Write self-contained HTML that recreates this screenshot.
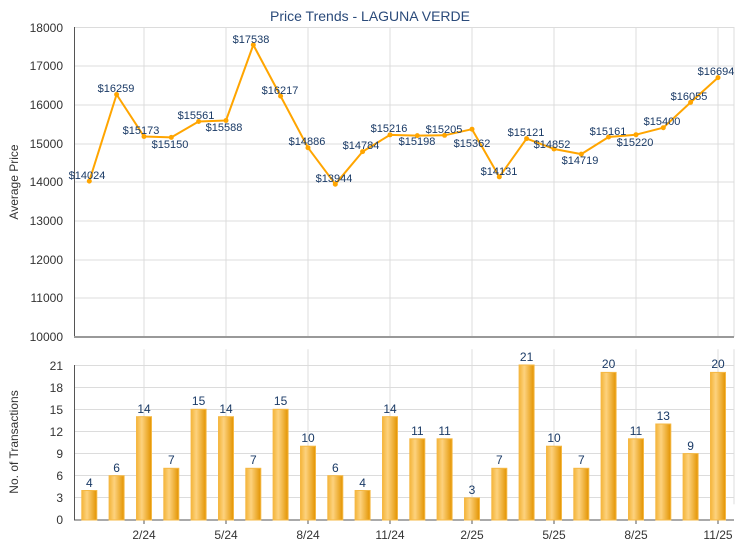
<!DOCTYPE html>
<html><head><meta charset="utf-8"><style>body{margin:0;background:#fff}svg{display:block;font-family:"Liberation Sans",sans-serif}</style></head><body>
<svg width="740" height="550" viewBox="0 0 740 550">
<defs><linearGradient id="g" x1="0" x2="1"><stop offset="0" stop-color="#f4b53a"/><stop offset="0.35" stop-color="#fdd27e"/><stop offset="1" stop-color="#e39400"/></linearGradient></defs>
<text x="370" y="21" text-anchor="middle" font-size="14" fill="#2a4a7a">Price Trends - LAGUNA VERDE</text>
<g stroke="#dcdcdc" stroke-width="1">
<line x1="74" x2="734" y1="27.5" y2="27.5"/><line x1="74" x2="734" y1="66" y2="66"/><line x1="74" x2="734" y1="105" y2="105"/><line x1="74" x2="734" y1="144" y2="144"/><line x1="74" x2="734" y1="182" y2="182"/><line x1="74" x2="734" y1="221" y2="221"/><line x1="74" x2="734" y1="260" y2="260"/><line x1="74" x2="734" y1="298" y2="298"/>
<line x1="74" x2="734" y1="365.5" y2="365.5"/><line x1="74" x2="734" y1="387.5" y2="387.5"/><line x1="74" x2="734" y1="409.5" y2="409.5"/><line x1="74" x2="734" y1="431.5" y2="431.5"/><line x1="74" x2="734" y1="453.5" y2="453.5"/><line x1="74" x2="734" y1="475.5" y2="475.5"/><line x1="74" x2="734" y1="497.5" y2="497.5"/>
<g id="v"><line x1="144" x2="144" y1="27" y2="337"/><line x1="226" x2="226" y1="27" y2="337"/><line x1="308" x2="308" y1="27" y2="337"/><line x1="390" x2="390" y1="27" y2="337"/><line x1="472" x2="472" y1="27" y2="337"/><line x1="554" x2="554" y1="27" y2="337"/><line x1="636" x2="636" y1="27" y2="337"/><line x1="718" x2="718" y1="27" y2="337"/><line x1="734" x2="734" y1="27" y2="337"/></g>
<use href="#v" transform="translate(0,335.8) scale(1,0.5)"/>
</g>
<g stroke="#555"><line x1="144" x2="144" y1="520" y2="524"/><line x1="226" x2="226" y1="520" y2="524"/><line x1="308" x2="308" y1="520" y2="524"/><line x1="390" x2="390" y1="520" y2="524"/><line x1="472" x2="472" y1="520" y2="524"/><line x1="554" x2="554" y1="520" y2="524"/><line x1="636" x2="636" y1="520" y2="524"/><line x1="718" x2="718" y1="520" y2="524"/></g>
<line x1="74.5" x2="74.5" y1="27" y2="337" stroke="#555"/><line x1="74" x2="734" y1="337" y2="337" stroke="#999" stroke-width="2"/>
<line x1="74.5" x2="74.5" y1="365" y2="520" stroke="#555"/><line x1="74" x2="734" y1="520" y2="520" stroke="#555"/>
<g font-size="12" fill="#333" text-anchor="end">
<text x="63" y="32">18000</text><text x="63" y="70">17000</text><text x="63" y="109">16000</text><text x="63" y="148">15000</text><text x="63" y="186">14000</text><text x="63" y="225">13000</text><text x="63" y="264">12000</text><text x="63" y="302">11000</text><text x="63" y="341">10000</text>
<text x="63" y="370">21</text><text x="63" y="392">18</text><text x="63" y="414">15</text><text x="63" y="436">12</text><text x="63" y="458">9</text><text x="63" y="480">6</text><text x="63" y="502">3</text><text x="63" y="524">0</text>
</g>
<g font-size="12" fill="#333" text-anchor="middle">
<text x="144" y="539">2/24</text><text x="226" y="539">5/24</text><text x="308" y="539">8/24</text><text x="390" y="539">11/24</text><text x="472" y="539">2/25</text><text x="554" y="539">5/25</text><text x="636" y="539">8/25</text><text x="718" y="539">11/25</text>
</g>
<text transform="translate(18,182) rotate(-90)" font-size="12" fill="#333" text-anchor="middle">Average Price</text>
<text transform="translate(18,442) rotate(-90)" font-size="12" fill="#333" text-anchor="middle">No. of Transactions</text>
<polyline fill="none" stroke="#ffa500" stroke-width="2" stroke-linejoin="round" points="89.3,181.1 116.6,94.5 144,136.5 171.3,137.4 198.6,121.5 226,120.5 253.3,44.9 280.6,96.1 308,147.7 335.3,184.2 362.6,151.6 390,134.9 417.3,135.6 444.6,135.3 472,129.2 499.3,176.9 526.6,138.6 554,149 581.3,154.1 608.6,137 636,134.7 663.3,127.7 690.6,102.4 718,77.6"/>
<g fill="#ffa500"><circle cx="89.3" cy="181.1" r="2.5"/><circle cx="116.6" cy="94.5" r="2.5"/><circle cx="144" cy="136.5" r="2.5"/><circle cx="171.3" cy="137.4" r="2.5"/><circle cx="198.6" cy="121.5" r="2.5"/><circle cx="226" cy="120.5" r="2.5"/><circle cx="253.3" cy="44.9" r="2.5"/><circle cx="280.6" cy="96.1" r="2.5"/><circle cx="308" cy="147.7" r="2.5"/><circle cx="335.3" cy="184.2" r="2.5"/><circle cx="362.6" cy="151.6" r="2.5"/><circle cx="390" cy="134.9" r="2.5"/><circle cx="417.3" cy="135.6" r="2.5"/><circle cx="444.6" cy="135.3" r="2.5"/><circle cx="472" cy="129.2" r="2.5"/><circle cx="499.3" cy="176.9" r="2.5"/><circle cx="526.6" cy="138.6" r="2.5"/><circle cx="554" cy="149" r="2.5"/><circle cx="581.3" cy="154.1" r="2.5"/><circle cx="608.6" cy="137" r="2.5"/><circle cx="636" cy="134.7" r="2.5"/><circle cx="663.3" cy="127.7" r="2.5"/><circle cx="690.6" cy="102.4" r="2.5"/><circle cx="718" cy="77.6" r="2.5"/></g>
<g font-size="11" fill="#1a3a66" text-anchor="middle">
<text x="87" y="179">$14024</text><text x="116" y="92">$16259</text><text x="141" y="134">$15173</text><text x="170" y="148">$15150</text><text x="196" y="119">$15561</text><text x="224" y="131">$15588</text><text x="251" y="43">$17538</text><text x="280" y="94">$16217</text><text x="307" y="145">$14886</text><text x="334" y="182">$13944</text><text x="361" y="149">$14784</text><text x="389" y="132">$15216</text><text x="417" y="145">$15198</text><text x="444" y="133">$15205</text><text x="472" y="147">$15362</text><text x="499" y="175">$14131</text><text x="526" y="136">$15121</text><text x="552" y="148">$14852</text><text x="580" y="164">$14719</text><text x="608" y="135">$15161</text><text x="635" y="146">$15220</text><text x="662" y="125">$15400</text><text x="689" y="100">$16055</text><text x="716" y="75">$16694</text>
</g>
<g fill="url(#g)" stroke="#f5b844" stroke-width="1">
<rect x="81.8" y="490.5" width="15" height="29.5"/><rect x="109.1" y="475.7" width="15" height="44.3"/><rect x="136.5" y="416.7" width="15" height="103.3"/><rect x="163.8" y="468.3" width="15" height="51.7"/><rect x="191.1" y="409.3" width="15" height="110.7"/><rect x="218.5" y="416.7" width="15" height="103.3"/><rect x="245.8" y="468.3" width="15" height="51.7"/><rect x="273.1" y="409.3" width="15" height="110.7"/><rect x="300.5" y="446.2" width="15" height="73.8"/><rect x="327.8" y="475.7" width="15" height="44.3"/><rect x="355.1" y="490.5" width="15" height="29.5"/><rect x="382.5" y="416.7" width="15" height="103.3"/><rect x="409.8" y="438.8" width="15" height="81.2"/><rect x="437.1" y="438.8" width="15" height="81.2"/><rect x="464.5" y="497.9" width="15" height="22.1"/><rect x="491.8" y="468.3" width="15" height="51.7"/><rect x="519.1" y="365" width="15" height="155"/><rect x="546.5" y="446.2" width="15" height="73.8"/><rect x="573.8" y="468.3" width="15" height="51.7"/><rect x="601.1" y="372.4" width="15" height="147.6"/><rect x="628.5" y="438.8" width="15" height="81.2"/><rect x="655.8" y="424" width="15" height="96"/><rect x="683.1" y="453.6" width="15" height="66.4"/><rect x="710.5" y="372.4" width="15" height="147.6"/>
</g>
<g font-size="12" fill="#1a3a66" text-anchor="middle">
<text x="89.3" y="487">4</text><text x="116.6" y="472">6</text><text x="144" y="413">14</text><text x="171.3" y="464">7</text><text x="198.6" y="405">15</text><text x="226" y="413">14</text><text x="253.3" y="464">7</text><text x="280.6" y="405">15</text><text x="308" y="442">10</text><text x="335.3" y="472">6</text><text x="362.6" y="487">4</text><text x="390" y="413">14</text><text x="417.3" y="435">11</text><text x="444.6" y="435">11</text><text x="472" y="494">3</text><text x="499.3" y="464">7</text><text x="526.6" y="361">21</text><text x="554" y="442">10</text><text x="581.3" y="464">7</text><text x="608.6" y="368">20</text><text x="636" y="435">11</text><text x="663.3" y="420">13</text><text x="690.6" y="450">9</text><text x="718" y="368">20</text>
</g>
</svg>
</body></html>
